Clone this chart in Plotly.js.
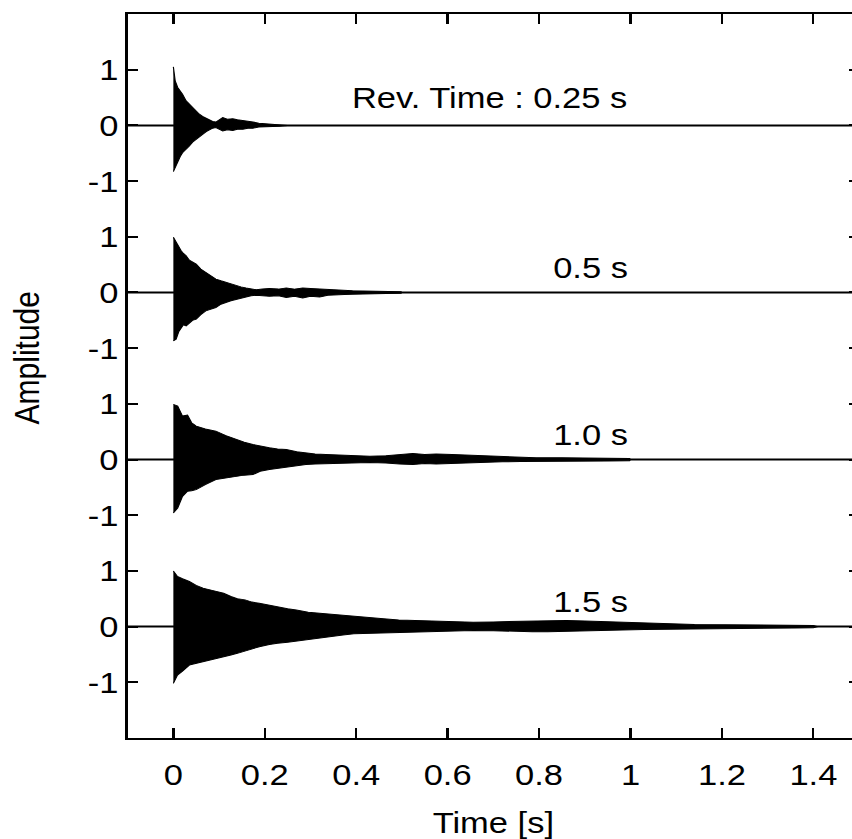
<!DOCTYPE html>
<html>
<head>
<meta charset="utf-8">
<script src="https://cdn.plot.ly/plotly-3.0.1.min.js"></script>
<style>
  html, body { margin: 0; padding: 0; overflow: hidden; background: #fff; width: 852px; height: 839px; }
  #wrap { position: absolute; left: 0; top: 0; width: 852px; height: 839px; overflow: hidden; }
  #plot { width: 760px; height: 839px; transform: scaleX(1.15); transform-origin: 0 0; }
</style>
</head>
<body>
<div id="wrap"><div id="plot"></div></div>
<script>
// Envelope readings (amplitude) of each impulse response
const t025 = [0, 0.004, 0.0095, 0.015, 0.02, 0.028, 0.035, 0.042, 0.05, 0.057, 0.064, 0.072, 0.079, 0.086, 0.093, 0.1, 0.108, 0.118, 0.13, 0.14, 0.152, 0.163, 0.174, 0.187, 0.2, 0.215, 0.232, 0.25];
const up025 = [1.05, 0.80, 0.68, 0.62, 0.56, 0.44, 0.38, 0.33, 0.26, 0.20, 0.16, 0.13, 0.11, 0.07, 0.06, 0.09, 0.14, 0.11, 0.12, 0.10, 0.09, 0.07, 0.06, 0.04, 0.03, 0.025, 0.015, 0];
const lo025 = [-0.83, -0.76, -0.67, -0.56, -0.49, -0.42, -0.37, -0.30, -0.25, -0.20, -0.16, -0.11, -0.08, -0.05, -0.04, -0.07, -0.10, -0.08, -0.09, -0.07, -0.07, -0.05, -0.05, -0.03, -0.03, -0.02, -0.015, 0];

const t05 = [0, 0.006, 0.012, 0.017, 0.022, 0.028, 0.035, 0.042, 0.05, 0.06, 0.071, 0.082, 0.093, 0.104, 0.115, 0.126, 0.137, 0.148, 0.159, 0.17, 0.181, 0.195, 0.21, 0.23, 0.247, 0.265, 0.283, 0.3, 0.32, 0.338, 0.356, 0.374, 0.392, 0.415, 0.436, 0.465, 0.498, 0.5];
const up05 = [0.99, 0.90, 0.80, 0.75, 0.70, 0.66, 0.58, 0.55, 0.51, 0.42, 0.36, 0.30, 0.24, 0.21, 0.18, 0.15, 0.12, 0.10, 0.08, 0.06, 0.05, 0.06, 0.07, 0.06, 0.08, 0.06, 0.08, 0.07, 0.06, 0.05, 0.04, 0.035, 0.03, 0.025, 0.02, 0.02, 0.015, 0];
const lo05 = [-0.87, -0.84, -0.70, -0.63, -0.58, -0.60, -0.55, -0.50, -0.48, -0.40, -0.33, -0.30, -0.27, -0.21, -0.18, -0.15, -0.12, -0.10, -0.08, -0.06, -0.05, -0.06, -0.07, -0.06, -0.09, -0.07, -0.10, -0.07, -0.08, -0.05, -0.04, -0.035, -0.03, -0.025, -0.02, -0.02, -0.015, 0];

const t10 = [0, 0.0095, 0.02, 0.031, 0.04, 0.05, 0.07, 0.093, 0.115, 0.137, 0.155, 0.174, 0.19, 0.21, 0.228, 0.247, 0.27, 0.29, 0.31, 0.334, 0.36, 0.392, 0.43, 0.465, 0.495, 0.524, 0.55, 0.575, 0.61, 0.648, 0.685, 0.72, 0.76, 0.794, 0.85, 0.903, 0.95, 0.998, 1.0];
const up10 = [0.99, 0.96, 0.78, 0.80, 0.66, 0.60, 0.55, 0.51, 0.43, 0.36, 0.31, 0.27, 0.24, 0.21, 0.19, 0.18, 0.14, 0.12, 0.10, 0.09, 0.08, 0.07, 0.06, 0.07, 0.09, 0.11, 0.09, 0.10, 0.09, 0.08, 0.06, 0.05, 0.04, 0.03, 0.03, 0.025, 0.025, 0.02, 0];
const lo10 = [-0.96, -0.87, -0.66, -0.57, -0.56, -0.54, -0.45, -0.36, -0.33, -0.30, -0.28, -0.27, -0.21, -0.18, -0.15, -0.13, -0.11, -0.09, -0.08, -0.07, -0.065, -0.06, -0.055, -0.06, -0.08, -0.09, -0.07, -0.08, -0.08, -0.07, -0.05, -0.04, -0.035, -0.03, -0.03, -0.025, -0.025, -0.02, 0];

const t15 = [0, 0.009, 0.02, 0.035, 0.05, 0.065, 0.08, 0.096, 0.11, 0.126, 0.14, 0.157, 0.172, 0.188, 0.21, 0.228, 0.25, 0.269, 0.295, 0.32, 0.345, 0.371, 0.395, 0.422, 0.46, 0.493, 0.53, 0.575, 0.615, 0.656, 0.7, 0.748, 0.785, 0.819, 0.86, 0.9, 0.94, 0.982, 1.03, 1.084, 1.14, 1.206, 1.28, 1.36, 1.4, 1.41];
const up15 = [1.0, 0.90, 0.86, 0.81, 0.74, 0.69, 0.66, 0.63, 0.60, 0.54, 0.50, 0.48, 0.44, 0.42, 0.38, 0.36, 0.32, 0.30, 0.26, 0.24, 0.22, 0.20, 0.18, 0.16, 0.14, 0.12, 0.11, 0.09, 0.085, 0.08, 0.085, 0.09, 0.10, 0.10, 0.11, 0.10, 0.09, 0.08, 0.06, 0.05, 0.04, 0.035, 0.03, 0.025, 0.02, 0];
const lo15 = [-1.02, -0.87, -0.80, -0.69, -0.66, -0.63, -0.60, -0.57, -0.54, -0.51, -0.48, -0.45, -0.40, -0.36, -0.32, -0.30, -0.28, -0.27, -0.24, -0.21, -0.18, -0.15, -0.13, -0.12, -0.11, -0.10, -0.09, -0.09, -0.08, -0.07, -0.075, -0.08, -0.09, -0.09, -0.09, -0.08, -0.07, -0.06, -0.05, -0.04, -0.035, -0.035, -0.03, -0.025, -0.02, 0];

const offsets = [9, 6, 3, 0];
const labels = ["Rev. Time : 0.25 s", "0.5 s", "1.0 s", "1.5 s"];
const labelY = [0.5, 0.45, 0.45, 0.45];

const xTickVals = [0, 0.2, 0.4, 0.6, 0.8, 1, 1.2, 1.4];
const xTickText = ["0", "0.2", "0.4", "0.6", "0.8", "1", "1.2", "1.4"];
const yTickVals = [10, 9, 8, 7, 6, 5, 4, 3, 2, 1, 0, -1];
const yTickText = ["1", "0", "-1", "1", "0", "-1", "1", "0", "-1", "1", "0", "-1"];

const sets = [[t025, up025, lo025], [t05, up05, lo05], [t10, up10, lo10], [t15, up15, lo15]];

const traces = [];
sets.forEach((s, i) => {
  const [t, up, lo] = s;
  const off = offsets[i];
  const xs = t.concat(t.slice().reverse());
  const ys = up.map(v => v + off).concat(lo.map(v => v + off).reverse());
  traces.push({
    x: xs, y: ys, type: 'scatter', mode: 'lines', fill: 'toself',
    fillcolor: '#000', line: {color: '#000', width: 1}, hoverinfo: 'skip', showlegend: false
  });
  traces.push({
    x: [-0.1, 1.5], y: [off, off], type: 'scatter', mode: 'lines',
    line: {color: '#000', width: 2}, hoverinfo: 'skip', showlegend: false
  });
});

const font = {family: '"Liberation Sans", Arial, Helvetica, sans-serif', size: 30, color: '#000'};

const annotations = labels.map((txt, i) => ({
  x: 1.0, y: offsets[i] + labelY[i], xref: 'x', yref: 'y', text: txt,
  showarrow: false, xanchor: 'right', yanchor: 'middle', font: font
}));
// y-axis title (placed as in the reference, slightly above the plot centre)
annotations.push({
  x: -0.1375, y: 0.525, xref: 'paper', yref: 'paper', text: 'Amplitude',
  textangle: -90, showarrow: false, xanchor: 'center', yanchor: 'middle', font: font
});

const layout = {
  width: 760, height: 839,
  margin: {l: 111, r: 12.5, t: 14, b: 101},
  paper_bgcolor: '#fff', plot_bgcolor: '#fff',
  font: font,
  showlegend: false,
  xaxis: {
    range: [-0.1, 1.5], tickvals: xTickVals, ticktext: xTickText,
    ticks: 'inside', ticklen: 10, tickwidth: 2, tickcolor: '#000',
    showline: true, linewidth: 2, linecolor: '#000', mirror: 'ticks',
    showgrid: false, zeroline: false, tickfont: font, ticklabelstandoff: 9,
    title: {text: 'Time [s]', font: font, standoff: 23},
    automargin: false
  },
  yaxis: {
    range: [-2, 11], tickvals: yTickVals, ticktext: yTickText,
    ticks: 'inside', ticklen: 9, tickwidth: 2, tickcolor: '#000',
    showline: true, linewidth: 2, linecolor: '#000', mirror: 'ticks',
    showgrid: false, zeroline: false, tickfont: font,
    automargin: false
  },
  annotations: annotations
};

Plotly.newPlot('plot', traces, layout, {staticPlot: true, displayModeBar: false});
</script>
</body>
</html>
